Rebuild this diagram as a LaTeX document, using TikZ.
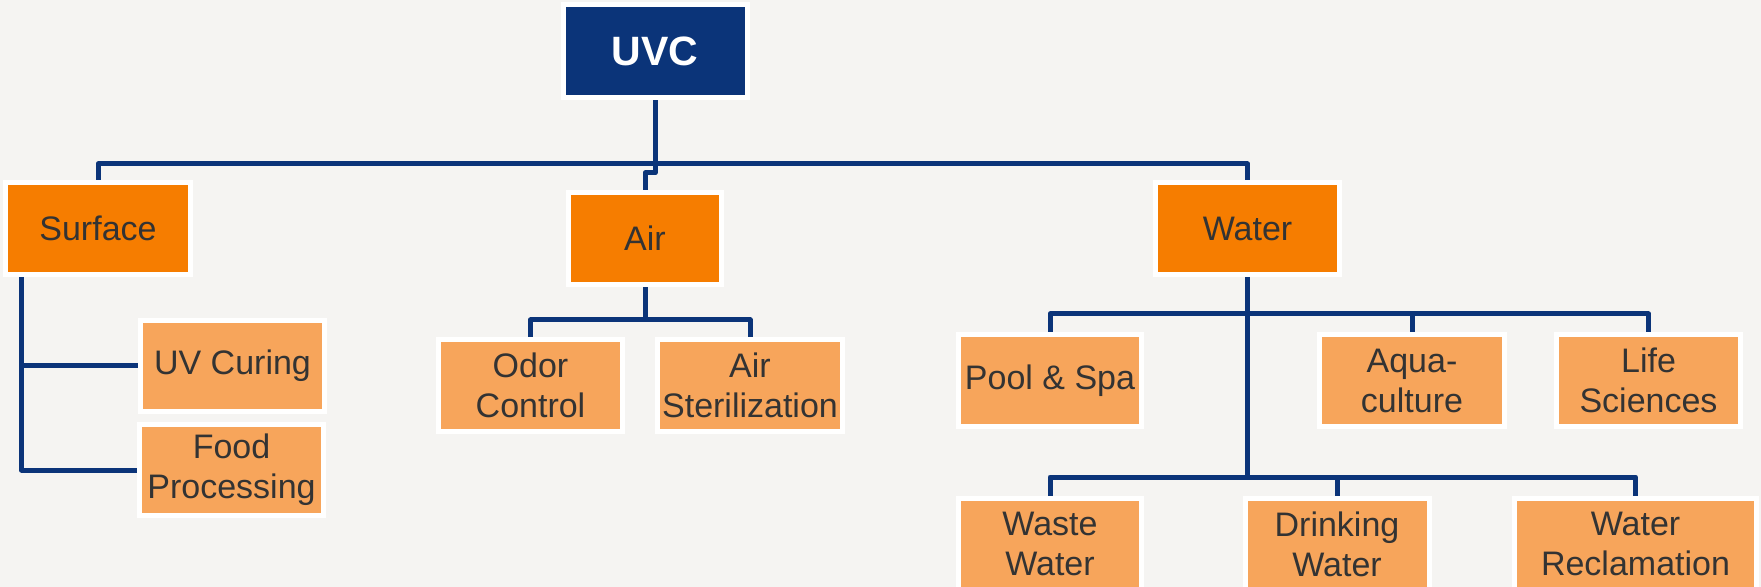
\documentclass[tikz,border=0pt]{standalone}
\usepackage{fontspec}
\setmainfont{Liberation Sans}
\usepackage{tikz}
\definecolor{uvblue}{HTML}{0B3479}
\definecolor{uvorange}{HTML}{F67D00}
\definecolor{leaforange}{HTML}{F7A55B}
\definecolor{textgray}{HTML}{333333}
\definecolor{pagebg}{HTML}{F5F4F2}
\pgfdeclarelayer{bg}
\pgfdeclarelayer{links}
\pgfsetlayers{bg,links,main}
\tikzstyle{rootbox} = [fill=uvblue, draw=white, line width=2.5pt, inner sep=0pt,
    minimum width=92pt, minimum height=46.5pt, text=white,
    font=\fontsize{20.5}{24}\selectfont\bfseries]
\tikzstyle{groupbox} = [fill=uvorange, draw=white, line width=2.5pt, inner sep=0pt,
    minimum width=92pt, minimum height=46pt, text=textgray,
    font=\fontsize{17}{20}\selectfont, align=center]
\tikzstyle{leafbox} = [groupbox, fill=leaforange]
\tikzstyle{link} = [draw=uvblue, line width=2.5pt, line join=round]

\begin{document}
\begin{tikzpicture}[x=0.5pt, y=-0.5pt]
                \useasboundingbox (0,0) rectangle (1761,587);
                \begin{pgfonlayer}{bg}
                    \fill[pagebg] (0,0) rectangle (1761,587);
                \end{pgfonlayer}
                \clip (0,0) rectangle (1761,587);

                \node [rootbox] (uvc) at (655,51) {UVC};

                \node [groupbox, minimum width=92.5pt] (surface) at (98,228.5) {Surface};
                \node [groupbox, minimum width=76.5pt] (air) at (645,238.5) {Air};
                \node [groupbox] (water) at (1247.5,228.5) {Water};

                \node [leafbox, minimum height=45.5pt] (uvcuring) at (232.5,366) {UV Curing};
                \node [leafbox, minimum height=45.5pt] (food) at (231.5,470) {Food\\Processing};

                \node [leafbox] (odor) at (530.5,385.5) {Odor\\Control};
                \node [leafbox, minimum width=92.5pt] (airster) at (750,385.5) {Air\\Sterilization};

                \node [leafbox, minimum width=91.5pt] (pool) at (1050,380.5) {Pool \& Spa};
                \node [leafbox, minimum width=92.5pt] (aqua) at (1412,380.5) {Aqua-\\culture};
                \node [leafbox] (life) at (1648.5,380.5) {Life\\Sciences};

                \node [leafbox, minimum width=91.5pt] (waste) at (1050,544) {Waste\\Water};
                \node [leafbox] (drinking) at (1337,544) {Drinking\\Water};
                \node [leafbox, minimum width=121pt] (recl) at (1635.5,544) {Water\\Reclamation};

                \coordinate (hub) at (655,164);
                \coordinate (airhub) at (645,320);
                \coordinate (waterhub) at (1247.5,314);
                \coordinate (waterhublow) at (1247.5,477);

                \begin{pgfonlayer}{links}
                    \draw[link] (uvc.south) -- (hub);
                    \draw[link] (surface.north) |- (hub) -| (water.north);
                    \draw[link] (hub) -- ++(0,9) -| (air.north);

                    \draw[link] ([xshift=9.25pt]surface.south west) |- (uvcuring.west);
                    \draw[link] ([xshift=9.25pt]surface.south west) |- (food.west);

                    \draw[link] (air.south) -- (airhub);
                    \draw[link] (odor.north) |- (airhub) -| (airster.north);

                    \draw[link] (water.south) -- (waterhublow);
                    \draw[link] (pool.north) |- (waterhub) -| (life.north);
                    \draw[link] (aqua.north) -- (aqua.north |- waterhub);
                    \draw[link] (waste.north) |- (waterhublow) -| (recl.north);
                    \draw[link] (drinking.north) -- (drinking.north |- waterhublow);
                \end{pgfonlayer}
            \end{tikzpicture}
\end{document}
